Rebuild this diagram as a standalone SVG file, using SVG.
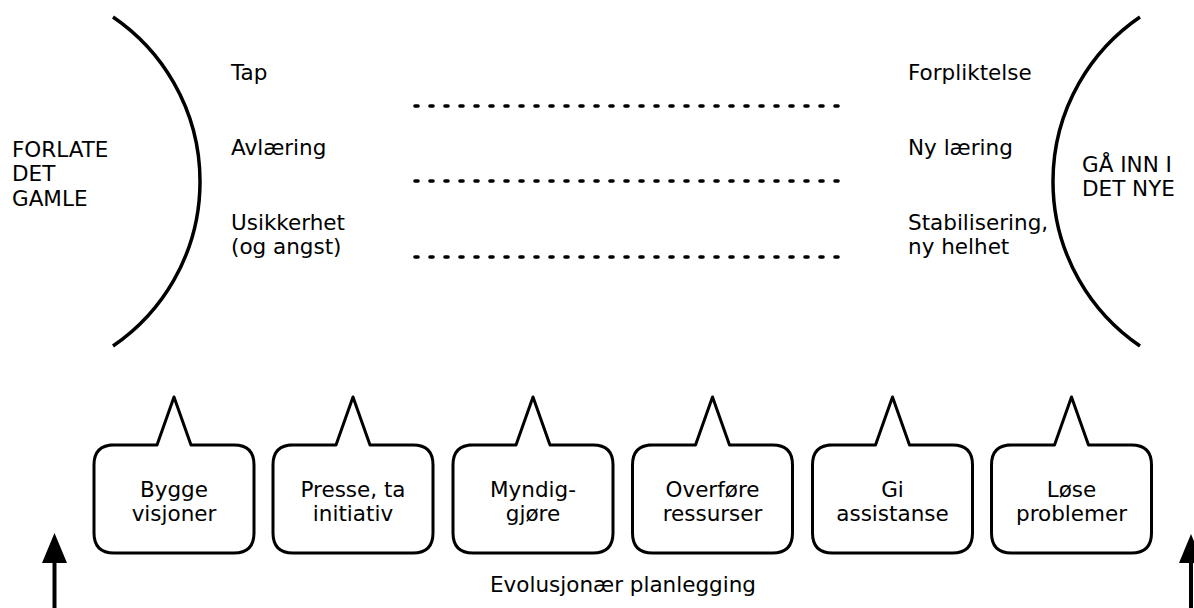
<svg xmlns="http://www.w3.org/2000/svg" width="1194" height="608" viewBox="0 0 1194 608">
<style>
text{font-family:"DejaVu Sans","Verdana",sans-serif;font-size:21.5px;fill:#000}
.c{text-anchor:middle}
.arc{fill:none;stroke:#000;stroke-width:3.5}
.dot{fill:none;stroke:#000;stroke-width:3.6;stroke-linecap:round;stroke-dasharray:3 12}
.bub{fill:#fff;stroke:#000;stroke-width:3;stroke-linejoin:round}
.ar{stroke:#000;stroke-width:4;fill:none}
</style>
<rect width="1194" height="608" fill="#fff"/>
<g id="left-arc">
<path class="arc" d="M113,17 A199,199 0 0,1 113,346"/>
<text x="12" y="157">FORLATE</text>
<text x="12" y="181">DET</text>
<text x="12" y="206">GAMLE</text>
</g>
<g id="right-arc">
<path class="arc" d="M1140,17 A199,199 0 0,0 1140,346"/>
<text x="1082" y="172">GÅ INN I</text>
<text x="1082" y="196">DET NYE</text>
</g>
<g id="left-labels">
<text x="231" y="80">Tap</text>
<text x="231" y="155">Avlæring</text>
<text x="231" y="230">Usikkerhet</text>
<text x="231" y="254">(og angst)</text>
</g>
<g id="right-labels">
<text x="908" y="80">Forpliktelse</text>
<text x="908" y="155">Ny læring</text>
<text x="908" y="230">Stabilisering,</text>
<text x="908" y="254">ny helhet</text>
</g>
<g id="connectors">
<line class="dot" x1="415" y1="106" x2="840" y2="106"/>
<line class="dot" x1="415" y1="181" x2="840" y2="181"/>
<line class="dot" x1="415" y1="257" x2="840" y2="257"/>
<line class="ar" x1="54.5" y1="560" x2="54.5" y2="608"/>
<polygon points="54.5,533 42,563 67,563" fill="#000"/>
<line class="ar" x1="1191" y1="560" x2="1191" y2="608"/>
<polygon points="1191,534 1179,563 1203,563" fill="#000"/>
</g>
<defs>
<path id="bubble" class="bub" d="M-64,0 L-17,0 L0,-48 L17,0 L60,0 Q80,0 80,20 L80,88 Q80,108 60,108 L-60,108 Q-80,108 -80,88 L-80,20 Q-80,0 -60,0 Z"/>
</defs>
<g id="n1" transform="translate(174,445)"><use href="#bubble"/><text class="c" x="0" y="52">Bygge</text><text class="c" x="0" y="76">visjoner</text></g>
<g id="n2" transform="translate(353,445)"><use href="#bubble"/><text class="c" x="0" y="52">Presse, ta</text><text class="c" x="0" y="76">initiativ</text></g>
<g id="n3" transform="translate(533,445)"><use href="#bubble"/><text class="c" x="0" y="52">Myndig-</text><text class="c" x="0" y="76">gjøre</text></g>
<g id="n4" transform="translate(712.5,445)"><use href="#bubble"/><text class="c" x="0" y="52">Overføre</text><text class="c" x="0" y="76">ressurser</text></g>
<g id="n5" transform="translate(892.5,445)"><use href="#bubble"/><text class="c" x="0" y="52">Gi</text><text class="c" x="0" y="76">assistanse</text></g>
<g id="n6" transform="translate(1071.5,445)"><use href="#bubble"/><text class="c" x="0" y="52">Løse</text><text class="c" x="0" y="76">problemer</text></g>
<text id="caption" x="490" y="592">Evolusjonær planlegging</text>
</svg>
